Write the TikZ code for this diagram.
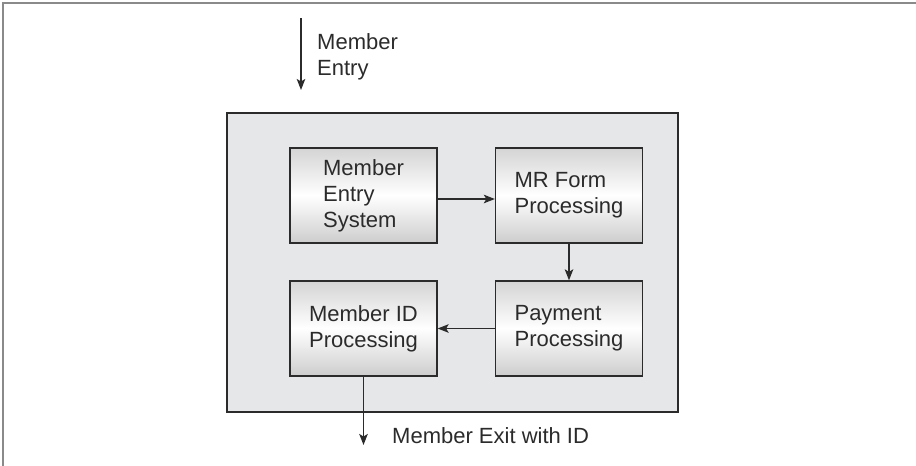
\documentclass[tikz,border=0pt]{standalone}
\usepackage{fontspec}
\setmainfont{Liberation Sans}
\usetikzlibrary{arrows.meta}

\definecolor{framegray}{HTML}{8A8A8A}
\definecolor{panelfill}{HTML}{E6E7E8}
\definecolor{inkdark}{HTML}{2B2B2B}
\definecolor{shadetop}{HTML}{D4D4D4}
\definecolor{shadebot}{HTML}{CDCDCD}

\tikzset{
  lbl/.style={inner sep=0pt, font=\fontsize{22}{26}\selectfont, text=inkdark, align=left},
  procbox/.style={draw=inkdark, line width=1.3pt, minimum width=147pt, minimum height=95pt,
    top color=shadetop, bottom color=shadebot, middle color=white, inner sep=0pt,
    font=\fontsize{22}{26}\selectfont, text=inkdark, align=left},
  flow/.style={draw=inkdark, line width=1.5pt, -{Stealth[length=11pt,width=8.5pt,inset=2.5pt]}},
}

\begin{document}
\begin{tikzpicture}[x=1pt, y=-1pt]
  \useasboundingbox (0,0) rectangle (916,466);

  % page frame (left and top edges)
  \draw[framegray, line width=2pt] (3,466) -- (3,3) -- (916,3);

  % grey system panel
  \node[draw=inkdark, fill=panelfill, line width=1.3pt, minimum width=451pt,
        minimum height=299pt, inner sep=0pt] (panel) at (452.5,262.5) {};

  % processing steps
  \node[procbox] (mes) at (363.5,195.5) {Member\\Entry\\System};
  \node[procbox] (mrf) at (569,195.5)   {MR Form\\Processing};
  \node[procbox] (mid) at (363.5,328.5) {Member ID\\Processing};
  \node[procbox] (pay) at (569,328.5)   {Payment\\Processing};

  % entry into the system
  \coordinate (entrytop) at (301,18);
  \coordinate (entrytip) at (301,90);
  \draw[flow] (entrytop) -- (entrytip);
  \node[lbl, anchor=north west] (entrylbl) at (317,33) {Member\\Entry};

  % flow between steps
  \draw[flow] ([yshift=-3.5pt]mes.east) -- ([yshift=-3.5pt]mrf.west);
  \draw[flow] (mrf.south) -- (pay.north);
  \draw[flow] (pay.west) -- (mid.east);

  % exit from the system
  \coordinate (exittip) at (mid.south |- 0,445);
  \draw[flow] (mid.south) -- (exittip);
  \node[lbl, anchor=base west] (exitlbl) at (392,443) {Member Exit with ID};
\end{tikzpicture}
\end{document}
